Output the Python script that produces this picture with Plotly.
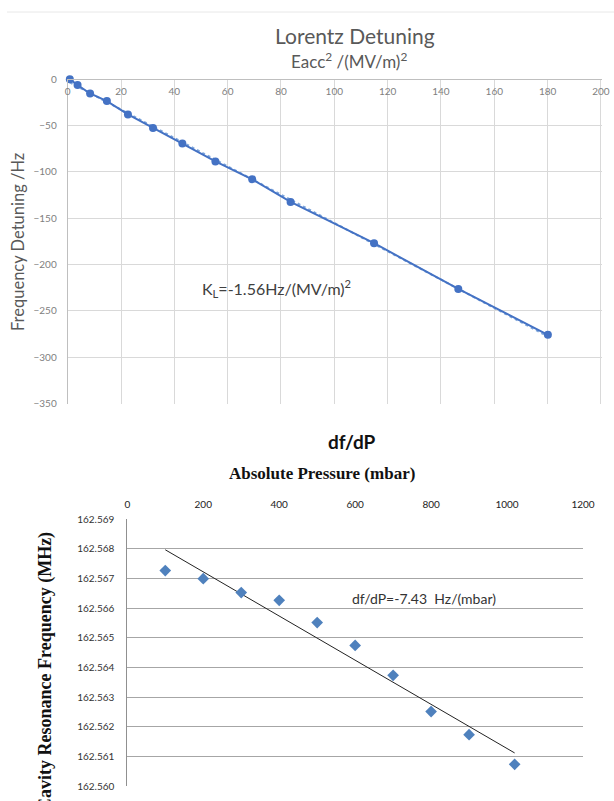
import numpy as np
import plotly.graph_objects as go

# ---- Top chart data: Lorentz detuning ----
eacc2 = [0.8, 3.7, 8.4, 14.7, 22.6, 32.0, 43.0, 55.4, 69.2, 83.6, 114.9, 146.5, 180.1]
detuning = [0.0, -6.4, -15.4, -23.6, -38.0, -52.6, -69.4, -88.7, -108.0, -132.4, -177.0, -226.4, -275.8]
top_xticks = [0, 20, 40, 60, 80, 100, 120, 140, 160, 180, 200]
top_yticks = [0, -50, -100, -150, -200, -250, -300, -350]

# ---- Bottom chart data: df/dP ----
pressure = [100, 200, 300, 400, 500, 600, 700, 800, 900, 1020]
freq = [162.56726, 162.56699, 162.56652, 162.56626, 162.56551,
        162.56474, 162.56373, 162.56251, 162.56173, 162.56073]
bot_xticks = [0, 200, 400, 600, 800, 1000, 1200]
bot_yticks = [162.560, 162.561, 162.562, 162.563, 162.564, 162.565,
              162.566, 162.567, 162.568, 162.569]

W, H = 614, 801
def px(x): return x / W
def py(y): return 1 - y / H

SANS = "Lato, 'Open Sans', sans-serif"
SERIF = "'Liberation Serif', 'Times New Roman', serif"
BLUE = "#4472c4"

fig = go.Figure()

# top: linear trendline (dotted) from fit
c1 = np.polyfit(eacc2, detuning, 1)
tx = np.array([min(eacc2), max(eacc2)])
fig.add_trace(go.Scatter(x=tx, y=np.polyval(c1, tx), mode="lines",
                         line=dict(color="#7fa7dc", width=2, dash="dot"),
                         xaxis="x", yaxis="y", showlegend=False, hoverinfo="skip"))
fig.add_trace(go.Scatter(x=eacc2, y=detuning, mode="lines+markers",
                         line=dict(color=BLUE, width=2), cliponaxis=False,
                         marker=dict(color=BLUE, size=8, symbol="circle"),
                         xaxis="x", yaxis="y", showlegend=False))

# bottom: points + linear trendline
c2 = np.polyfit(pressure, freq, 1)
bx = np.array([min(pressure), max(pressure)])
fig.add_trace(go.Scatter(x=bx, y=np.polyval(c2, bx), mode="lines",
                         line=dict(color="#222222", width=1),
                         xaxis="x2", yaxis="y2", showlegend=False, hoverinfo="skip"))
fig.add_trace(go.Scatter(x=pressure, y=freq, mode="markers",
                         marker=dict(color="#4f81bd", size=9, symbol="diamond"),
                         xaxis="x2", yaxis="y2", showlegend=False))

tickfont_top = dict(family=SANS, size=10, color="#808080")

fig.update_layout(
    width=W, height=H,
    margin=dict(l=0, r=0, t=0, b=0, pad=0),
    paper_bgcolor="white", plot_bgcolor="white",
    xaxis=dict(domain=[px(67.7), px(602)], range=[0, 200.4], side="bottom",
               anchor="free", position=py(79), automargin=False,
               tickvals=top_xticks, ticklabelstandoff=3,
               showgrid=True, gridcolor="#d9d9d9", gridwidth=1,
               showline=True, linecolor="#bfbfbf", linewidth=1,
               zeroline=False, tickfont=tickfont_top),
    yaxis=dict(domain=[py(404), py(79)], range=[-350.5, 0.2], automargin=False,
               tickvals=top_yticks, ticklabelstandoff=8,
               showgrid=True, gridcolor="#d9d9d9", gridwidth=1,
               showline=True, linecolor="#bfbfbf", linewidth=1,
               zeroline=False, tickfont=tickfont_top, anchor="x"),
    xaxis2=dict(domain=[px(127.3), px(583)], range=[0, 1200], side="top",
                tickvals=bot_xticks, ticklabelstandoff=8, automargin=False,
                showgrid=False, showline=False, zeroline=False,
                tickfont=dict(family=SANS, size=10, color="#222222"),
                anchor="y2"),
    yaxis2=dict(domain=[py(786), py(519)], range=[162.560, 162.569],
                tickvals=bot_yticks, tickformat=".3f", ticklabelstandoff=10,
                automargin=False,
                showgrid=True, gridcolor="#a6a6a6", gridwidth=1.3,
                showline=True, linecolor="#909090", linewidth=1,
                zeroline=False,
                tickfont=dict(family=SANS, size=10, color="#333333"),
                anchor="x2"),
)

ann = [
    dict(text="Lorentz Detuning", x=px(355), y=py(35), font=dict(family=SANS, size=21, color="#595959")),
    dict(text="Eacc<sup>2</sup> /(MV/m)<sup>2</sup>", x=px(349), y=py(61), font=dict(family=SANS, size=17, color="#595959")),
    dict(text="Frequency Detuning /Hz", x=px(18), y=py(242), textangle=-90, font=dict(family=SANS, size=16.5, color="#595959")),
    dict(text="K<sub>L</sub>=-1.56Hz/(MV/m)<sup>2</sup>", x=px(200), y=py(288), xanchor="left", font=dict(family=SANS, size=16, color="#404040")),
    dict(text="<b>df/dP</b>", x=px(352), y=py(441), font=dict(family=SANS, size=19, color="#111111")),
    dict(text="<b>Absolute Pressure (mbar)</b>", x=px(322), y=py(473), font=dict(family=SERIF, size=17, color="#111111")),
    dict(text="<b>Cavity Resonance Frequency (MHz)</b>", x=px(45), y=py(672), textangle=-90, font=dict(family=SERIF, size=18, color="#111111")),
    dict(text="df/dP=-7.43  Hz/(mbar)", x=px(350), y=py(598), xanchor="left", font=dict(family=SANS, size=14, color="#333333")),
]
for a in ann:
    a.setdefault("xanchor", "center")
    fig.add_annotation(xref="paper", yref="paper", yanchor="middle", showarrow=False, **a)

fig.add_shape(type="line", xref="paper", yref="paper", x0=px(7), x1=1, y0=py(12), y1=py(12),
              line=dict(color="#e8e8e8", width=1))

fig.write_html("out.html",
               post_script="document.body.style.margin='0';document.body.style.overflow='hidden';")
